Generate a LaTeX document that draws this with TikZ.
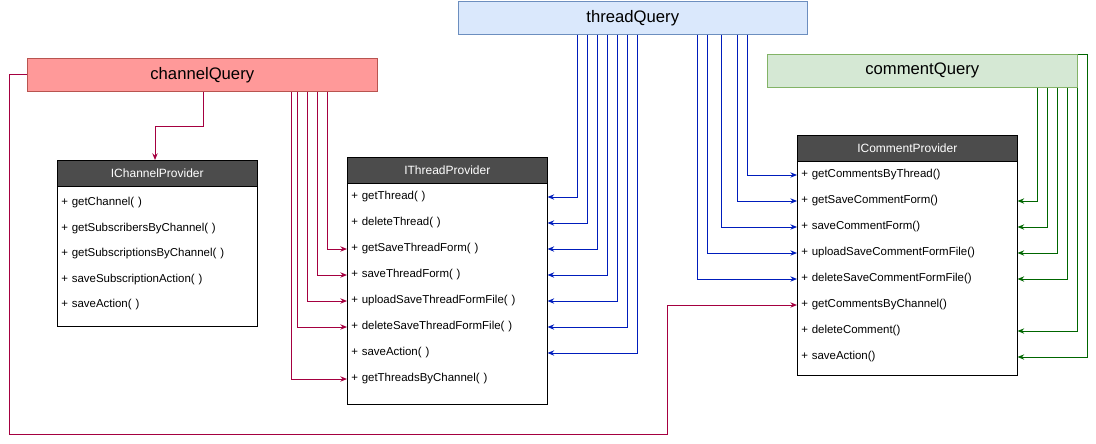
\documentclass[tikz,border=0pt]{standalone}
\usepackage{fontspec}
\setmainfont{Liberation Sans}
\usetikzlibrary{calc,arrows.meta}
\definecolor{rd}{HTML}{A50040}
\definecolor{bl}{HTML}{001DBC}
\definecolor{gr}{HTML}{006600}
\begin{document}
\begin{tikzpicture}[x=0.75pt,y=-0.75pt,
  q/.style={draw,minimum height=33*0.75pt,inner sep=0pt,font=\fontsize{12.5}{14}\selectfont},
  hd/.style={draw=black,fill=black!70,text=white,minimum height=26*0.75pt,inner sep=0pt,font=\fontsize{9}{10}\selectfont,anchor=north west},
  body/.style={draw=black,fill=white,anchor=north west,inner sep=0pt},
  row/.style={anchor=west,inner ysep=1pt,inner xsep=4*0.75pt,align=left,font=\fontsize{8.6}{10}\selectfont},
  c/.style={line width=0.75pt,-{Stealth[length=5pt,width=4pt]}},
  r/.style={c,draw=rd},b/.style={c,draw=bl},g/.style={c,draw=gr}]
\useasboundingbox (0,0) rectangle (1096,443);
% query boxes
\node[q,fill={rgb,255:red,255;green,153;blue,153},draw={rgb,255:red,184;green,84;blue,80},minimum width=350*0.75pt,anchor=north west] (cq) at (27,58) {channelQuery};
\node[q,fill={rgb,255:red,218;green,232;blue,252},draw={rgb,255:red,108;green,142;blue,191},minimum width=349*0.75pt,anchor=north west] (tq) at (458,1) {threadQuery};
\node[q,fill={rgb,255:red,213;green,232;blue,212},draw={rgb,255:red,130;green,179;blue,102},minimum width=310*0.75pt,anchor=north west] (mq) at (767,54) {commentQuery};
% IChannelProvider
\node[body,minimum width=200*0.75pt,minimum height=166*0.75pt] (cpb) at (57,160) {};
\node[hd,minimum width=200*0.75pt] (cph) at (57,160) {IChannelProvider};
\foreach \t [count=\i] in {getChannel( ),getSubscribersByChannel( ),getSubscriptionsByChannel( ),saveSubscriptionAction( ),saveAction( )}
  \node[row,text width=192*0.75pt] (c\i) at (57,{203+25.5*(\i-1)}) {+ \t};
% IThreadProvider
\node[body,minimum width=200*0.75pt,minimum height=247*0.75pt] (tpb) at (347,157) {};
\node[hd,minimum width=200*0.75pt] (tph) at (347,157) {IThreadProvider};
\foreach \t [count=\i] in {getThread( ),deleteThread( ),getSaveThreadForm( ),saveThreadForm( ),uploadSaveThreadFormFile( ),deleteSaveThreadFormFile( ),saveAction( ),getThreadsByChannel( )}
  \node[row,text width=192*0.75pt] (t\i) at (347,{197+26*(\i-1)}) {+ \t};
% ICommentProvider
\node[body,minimum width=220*0.75pt,minimum height=240*0.75pt] (mpb) at (797,135) {};
\node[hd,minimum width=220*0.75pt] (mph) at (797,135) {ICommentProvider};
\foreach \t [count=\i] in {getCommentsByThread(),getSaveCommentForm(),saveCommentForm(),uploadSaveCommentFormFile(),deleteSaveCommentFormFile(),getCommentsByChannel(),deleteComment(),saveAction()}
  \node[row,text width=212*0.75pt] (m\i) at (797,{175+26*(\i-1)}) {+ \t};
% channelQuery connectors
\draw[r] ($(cq.south west)+(176,0)$) |- ($(cph.north west)+(98,-34)$) -- (cph.north west -| {$(cph.north west)+(98,0)$});
\draw[r] ($(cq.south west)+(300,0)$) |- (t3.west);
\draw[r] ($(cq.south west)+(290,0)$) |- (t4.west);
\draw[r] ($(cq.south west)+(280,0)$) |- (t5.west);
\draw[r] ($(cq.south west)+(270,0)$) |- (t6.west);
\draw[r] ($(cq.south west)+(264,0)$) |- (t8.west);
\draw[r] (cq.west) -- ++(-18,0) coordinate (k1) -- (k1 |- 0,434) coordinate (k2) -- (k2 -| 667,0) coordinate (k3) |- (m6.west);
% threadQuery connectors
\foreach \i/\x in {1/119,2/129,3/139,4/149,5/159,6/169,7/179}
  \draw[b] ($(tq.south west)+(\x,0)$) |- (t\i.east);
\foreach \i/\x in {1/289,2/279,3/263,4/249,5/239}
  \draw[b] ($(tq.south west)+(\x,0)$) |- (m\i.west);
% commentQuery connectors
\foreach \i/\x in {2/270,3/280,4/290,5/300,7/310}
  \draw[g] ($(mq.south west)+(\x,0)$) |- (m\i.east);
\draw[g] (mq.north east) -- ++(10,0) |- (m8.east);
\end{tikzpicture}
\end{document}
